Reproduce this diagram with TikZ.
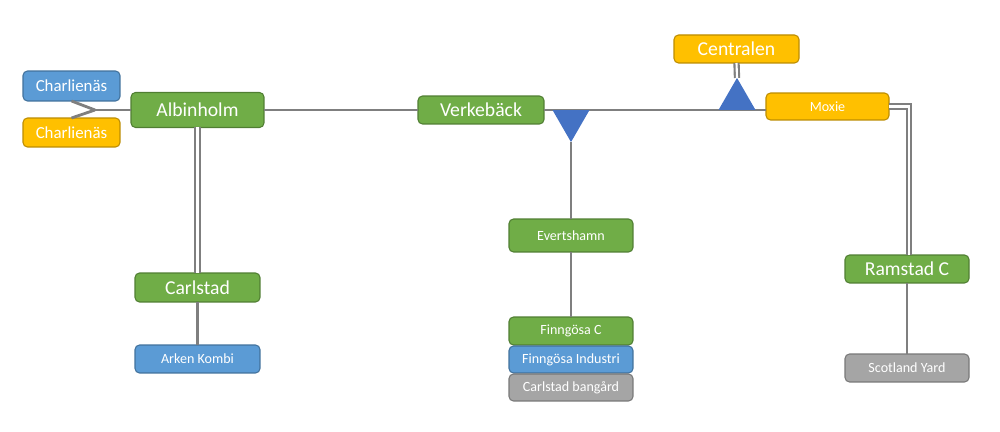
\documentclass[tikz,border=0pt]{standalone}
\usepackage{fontspec}
\setmainfont{Carlito}
\usepackage{xcolor}
\usetikzlibrary{shapes.geometric}

\definecolor{boxgreen}{HTML}{70AD47}
\definecolor{boxgreenline}{HTML}{507E32}
\definecolor{boxblue}{HTML}{5B9BD5}
\definecolor{boxblueline}{HTML}{41719C}
\definecolor{boxyellow}{HTML}{FFC000}
\definecolor{boxyellowline}{HTML}{BC8C00}
\definecolor{boxgray}{HTML}{A5A5A5}
\definecolor{boxgrayline}{HTML}{787878}
\definecolor{trifill}{HTML}{4472C4}
\definecolor{track}{HTML}{7F7F7F}

\begin{document}
\begin{tikzpicture}[x=0.02cm, y=-0.02cm,
    box/.style={shape=rectangle, rounded corners=0.09cm, line width=0.6pt, text=white,
      minimum width=2.5cm, minimum height=0.56cm, inner sep=0pt, outer sep=0pt},
    big/.style={font=\fontsize{11.2}{13}\selectfont},
    mid/.style={font=\fontsize{9.6}{11}\selectfont},
    small/.style={font=\fontsize{8}{10}\selectfont},
    green/.style={box, fill=boxgreen, draw=boxgreenline},
    blue/.style={box, fill=boxblue, draw=boxblueline},
    yellow/.style={box, fill=boxyellow, draw=boxyellowline},
    gray/.style={box, fill=boxgray, draw=boxgrayline},
    tri/.style={shape=regular polygon, regular polygon sides=3, fill=trifill,
      minimum size=0.855cm, inner sep=0pt, outer sep=0pt},
    line/.style={draw=track, line width=1.6pt},
    dline/.style={draw=track, line width=1.2pt, double=white, double distance=1.2pt}]
    \useasboundingbox (0,0) rectangle (1000,432);

    % stations
    \node[blue, mid, minimum width=1.94cm, minimum height=0.6cm] (chblue) at (71.5,86) {Charlienäs};
    \node[yellow, mid, minimum width=1.94cm, minimum height=0.58cm] (chyellow) at (71.5,132.5) {Charlienäs};
    \node[green, big, minimum width=2.66cm, minimum height=0.7cm] (albinholm) at (197.5,110) {Albinholm};
    \node[green, big, minimum width=2.52cm] (verkeback) at (481,110) {Verkebäck};
    \node[yellow, big] (centralen) at (736.5,49) {Centralen};
    \node[yellow, small, minimum width=2.46cm, minimum height=0.54cm] (moxie) at (827.5,106.5) {Moxie};
    \node[green, small, minimum width=2.48cm, minimum height=0.66cm] (evertshamn) at (571,235.5) {Evertshamn};
    \node[green, small, minimum width=2.48cm] (finngosac) at (571,331) {Finngösa C};
    \node[blue, small, minimum width=2.48cm, minimum height=0.54cm] (finngosaind) at (571,359.5) {Finngösa Industri};
    \node[gray, small, minimum width=2.48cm, minimum height=0.54cm] (bangard) at (571,387.5) {Carlstad bangård};
    \node[green, big, minimum height=0.58cm] (carlstad) at (197.5,287.5) {Carlstad};
    \node[blue, small] (arken) at (197.5,359) {Arken Kombi};
    \node[green, big, minimum width=2.48cm] (ramstad) at (907,269) {Ramstad C};
    \node[gray, small, minimum width=2.48cm] (scotland) at (907,368) {Scotland Yard};

    \coordinate (fork) at (95,110);

    % tracks
    \draw[line] (chblue.south) -- (fork);
    \draw[line] (chyellow.north) -- (fork);
    \draw[line] (fork) -- (albinholm.west);
    \draw[line] (albinholm.east) -- (verkeback.west);
    \draw[line] (verkeback.east) -- (verkeback.east -| moxie.west);
    \draw[dline] (albinholm.south) -- (carlstad.north);
    \draw[line] (carlstad.south) -- (arken.north);
    \draw[line] (evertshamn.south) -- (finngosac.north);
    \draw[dline] (moxie.east) -| ([xshift=0.04cm]ramstad.north);
    \draw[line] (ramstad.south) -- (scotland.north);

    % switches
    \node[tri, shape border rotate=180] (downtri) at (571,120.7) {};
    \node[tri] (uptri) at (737,99.3) {};
    \draw[line] (downtri.corner 1) -- (evertshamn.north);
    \draw[dline] (centralen.south) -- (uptri.corner 1);

  \end{tikzpicture}
\end{document}
